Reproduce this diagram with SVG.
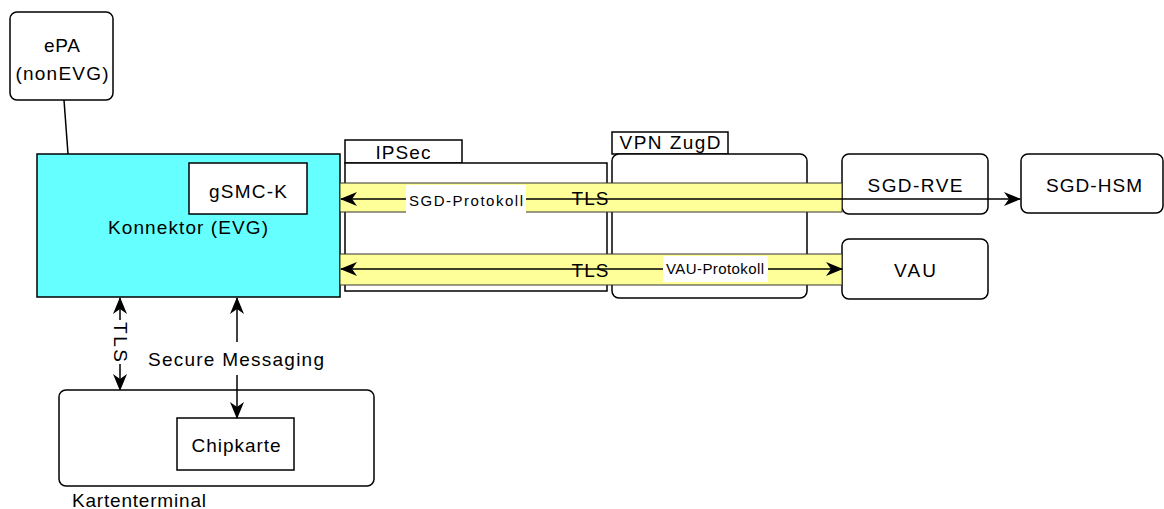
<svg xmlns="http://www.w3.org/2000/svg" width="1164" height="509" viewBox="0 0 1164 509">
<style>
.b{fill:#fff;stroke:#000;stroke-width:1.5}
.t{font-family:"Liberation Sans",Arial,sans-serif;font-size:19px;fill:#000;text-anchor:middle;dominant-baseline:central}
.s{font-family:"Liberation Sans",Arial,sans-serif;font-size:15px;fill:#000;text-anchor:middle;dominant-baseline:central}
.band{fill:#ffff99;stroke:#333;stroke-width:1}
.c{fill:none;stroke:#000;stroke-width:1.5}
</style>
<defs>
<marker id="ah" viewBox="0 0 17 14" refX="16" refY="7" markerWidth="17" markerHeight="14" markerUnits="userSpaceOnUse" orient="auto-start-reverse">
<path d="M0,0 L17,7 L0,14 L5,7 Z" fill="#000"/>
</marker>
</defs>
<rect width="1164" height="509" fill="#fff"/>
<g id="ePA">
<rect class="b" x="10" y="12" width="103" height="88" rx="7"/>
<text class="t" x="62" y="45" textLength="36">ePA</text>
<text class="t" x="62" y="73" textLength="93">(nonEVG)</text>
</g>
<g id="Konnektor">
<rect x="37" y="154" width="303" height="143" fill="#66ffff" stroke="#000" stroke-width="1.5"/>
<text class="t" x="188" y="227" textLength="160">Konnektor (EVG)</text>
</g>
<g id="gSMC-K">
<rect class="b" x="189" y="163" width="118" height="51"/>
<text class="t" x="248" y="191" textLength="78">gSMC-K</text>
</g>
<g id="IPSec">
<rect class="b" x="345" y="140" width="117" height="23"/>
<text class="t" x="403" y="152" textLength="55">IPSec</text>
<rect class="b" x="345" y="163" width="262" height="128"/>
</g>
<g id="VPNZugD">
<rect class="b" x="612" y="132" width="116" height="22"/>
<text class="t" x="670" y="142" textLength="101">VPN ZugD</text>
<rect class="b" x="612" y="154" width="195" height="144" rx="7"/>
</g>
<g id="SGD-RVE">
<rect class="b" x="842" y="154" width="146" height="60" rx="7"/>
<text class="t" x="915" y="185" textLength="95">SGD-RVE</text>
</g>
<g id="VAU">
<rect class="b" x="842" y="239" width="146" height="60" rx="7"/>
<text class="t" x="915" y="270" textLength="42">VAU</text>
</g>
<g id="SGD-HSM">
<rect class="b" x="1021" y="154" width="142" height="59" rx="7"/>
<text class="t" x="1094" y="185" textLength="96">SGD-HSM</text>
</g>
<g id="Kartenterminal">
<rect class="b" x="59" y="390" width="315" height="96" rx="7"/>
<text class="t" x="72" y="500" style="text-anchor:start" textLength="134">Kartenterminal</text>
</g>
<g id="Chipkarte">
<rect class="b" x="177" y="418" width="117" height="52"/>
<text class="t" x="236" y="445" textLength="89">Chipkarte</text>
</g>
<g id="connectors">
<line class="c" x1="64" y1="100" x2="68" y2="154"/>
<rect class="band" x="340" y="183" width="502" height="29"/>
<rect class="band" x="340" y="254" width="502" height="31"/>
<line class="c" x1="341" y1="199" x2="1020" y2="199" marker-start="url(#ah)" marker-end="url(#ah)"/>
<rect x="406" y="185" width="120" height="28" fill="#fff"/>
<text class="s" x="466" y="200" textLength="114">SGD-Protokoll</text>
<text class="t" x="590" y="198" textLength="37">TLS</text>
<line class="c" x1="341" y1="269" x2="842" y2="269" marker-start="url(#ah)" marker-end="url(#ah)"/>
<text class="t" x="590" y="270" textLength="37">TLS</text>
<rect x="663" y="256" width="105" height="26" fill="#fff"/>
<text class="s" x="715" y="268" textLength="98">VAU-Protokoll</text>
<line class="c" x1="120" y1="298" x2="120" y2="390" marker-start="url(#ah)" marker-end="url(#ah)"/>
<rect x="112" y="320" width="16" height="44" fill="#fff"/>
<text class="t" x="120" y="342" textLength="40" transform="rotate(90 120 342)">TLS</text>
<line class="c" x1="237" y1="298" x2="237" y2="418" marker-start="url(#ah)" marker-end="url(#ah)"/>
<rect x="146" y="342" width="180" height="33" fill="#fff"/>
<text class="t" x="236" y="359" textLength="176">Secure Messaging</text>
</g>
</svg>
